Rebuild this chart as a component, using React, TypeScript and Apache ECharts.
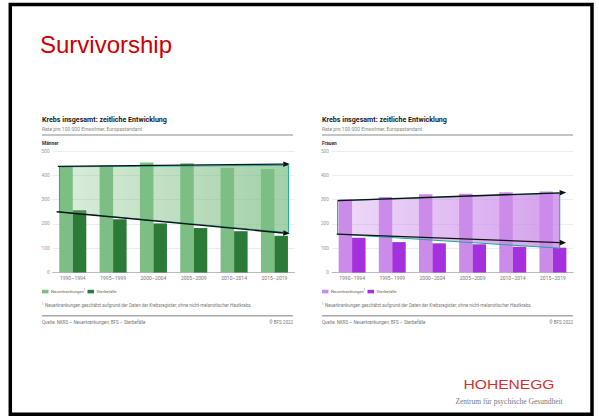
import React, { useEffect, useRef } from "react";
import * as echarts from "echarts";

const categories = ["1990–1994", "1995–1999", "2000–2004", "2005–2009", "2010–2014", "2015–2019"];
const yTicks = [0, 100, 200, 300, 400, 500];

const menIncidence = [438, 440, 453, 450, 431, 426];
const menDeaths = [256, 219, 202, 183, 170, 151];
const womenIncidence = [301, 311, 322, 324, 330, 333];
const womenDeaths = [143, 125, 120, 116, 106, 102];

// annotation band + arrows (x in category-index units, y in rate units)
const menBand = [[-0.33, 435], [5.35, 441], [5.35, 164], [-0.33, 250]];
const menArrowTop = [[-0.37, 437], [5.38, 446]];
const menArrowBottom = [[-0.4, 250], [5.38, 160]];
const womenBand = [[-0.36, 295], [5.17, 326], [5.17, 100], [-0.36, 158]];
const womenArrowTop = [[-0.36, 296], [5.33, 329]];
const womenArrowBottom = [[-0.38, 158], [5.33, 122]];

const MEN_LIGHT = "#7dbe84";
const MEN_DARK = "#2b7a37";
const WOMEN_LIGHT = "#cb8ce9";
const WOMEN_DARK = "#a431dd";
const FONT = "Roboto";

function bandRenderer(band: number[][], arrows: number[][][], from: string, to: string) {
  return (_params: any, api: any) => {
    const pts = band.map((p) => api.coord(p));
    const children: any[] = [
      {
        type: "polygon",
        shape: { points: pts },
        style: {
          fill: new echarts.graphic.LinearGradient(0, 0, 1, 0, [
            { offset: 0, color: from },
            { offset: 1, color: to },
          ]),
          stroke: "#1aa99b",
          lineWidth: 1,
        },
      },
    ];
    arrows.forEach(([a, b]) => {
      const p1 = api.coord(a);
      const p2 = api.coord(b);
      const dx = p2[0] - p1[0];
      const dy = p2[1] - p1[1];
      const len = Math.hypot(dx, dy);
      const ux = dx / len;
      const uy = dy / len;
      const hl = 6.5;
      const hw = 2.8;
      const base = [p2[0] - ux * hl, p2[1] - uy * hl];
      children.push({
        type: "line",
        shape: { x1: p1[0], y1: p1[1], x2: base[0], y2: base[1] },
        style: { stroke: "#111", lineWidth: 1.3 },
      });
      children.push({
        type: "polygon",
        shape: {
          points: [p2, [base[0] - uy * hw, base[1] + ux * hw], [base[0] + uy * hw, base[1] - ux * hw]],
        },
        style: { fill: "#111" },
      });
    });
    return { type: "group", children };
  };
}

function panelGraphics(x0: number, label: string, light: string, dark: string): any[] {
  const w = 251;
  const t = (text: string, x: number, y: number, size: number, fill: string, extra: any = {}) => ({
    type: "text",
    x,
    y,
    style: { text, fill, fontSize: size, fontFamily: FONT, verticalAlign: "middle", align: "left", ...extra },
  });
  return [
    t("Krebs insgesamt: zeitliche Entwicklung", x0, 119.5, 7.1, "#222", { fontWeight: "bold" }),
    t("Rate pro 100 000 Einwohner, Europastandard", x0, 129, 5, "#888"),
    { type: "line", shape: { x1: x0, y1: 135, x2: x0 + w, y2: 135 }, style: { stroke: "#8a8a8a", lineWidth: 1 } },
    t(label, x0, 143.5, 4.8, "#333", { fontWeight: "bold" }),
    { type: "rect", shape: { x: x0, y: 289.8, width: 6.5, height: 3.6 }, style: { fill: light } },
    t("Neuerkrankungen", x0 + 9, 291.6, 4.2, "#666"),
    t("1", x0 + 41.5, 290, 3, "#666"),
    { type: "rect", shape: { x: x0 + 45.5, y: 289.8, width: 6.5, height: 3.6 }, style: { fill: dark } },
    t("Sterbefälle", x0 + 54.5, 291.6, 4.2, "#666"),
    t("1", x0, 303.5, 3, "#666"),
    t(
      "Neuerkrankungen geschätzt aufgrund der Daten der Krebsregister; ohne nicht-melanotischer Hautkrebs.",
      x0 + 3,
      305,
      4.5,
      "#777"
    ),
    { type: "line", shape: { x1: x0, y1: 315.7, x2: x0 + w, y2: 315.7 }, style: { stroke: "#aaa", lineWidth: 1.5 } },
    t("Quelle: NKRS – Neuerkrankungen; BFS – Sterbefälle", x0, 322.8, 4.5, "#777"),
    t("© BFS 2022", x0 + w, 322.8, 4.5, "#777", { align: "right" }),
  ];
}

export default function App() {
  const ref = useRef<HTMLDivElement>(null);

  useEffect(() => {
    if (!ref.current) return;
    const chart = echarts.init(ref.current, undefined, { renderer: "svg" });

    const catAxis = (gridIndex: number) => ({
      type: "category",
      gridIndex,
      data: categories,
      axisTick: { show: false },
      axisLine: { lineStyle: { color: "#bbb", width: 1 } },
      axisLabel: { fontSize: 5, color: "#777", margin: 3, fontFamily: FONT, interval: 0 },
    });
    const valAxis = (gridIndex: number) => ({
      type: "value",
      gridIndex,
      min: yTicks[0],
      max: yTicks[yTicks.length - 1],
      interval: yTicks[1] - yTicks[0],
      axisLine: { show: false },
      axisTick: { show: false },
      axisLabel: { fontSize: 4.8, color: "#999", margin: 3, fontFamily: FONT },
      splitLine: { lineStyle: { color: "#ececec", width: 1 } },
    });
    const hiddenX = (gridIndex: number) => ({
      type: "value",
      gridIndex,
      min: -0.5,
      max: 5.5,
      show: false,
    });

    const bar = (name: string, data: number[], color: string, xi: number, yi: number) => ({
      type: "bar",
      name,
      data,
      xAxisIndex: xi,
      yAxisIndex: yi,
      barGap: "0%",
      barCategoryGap: "33%",
      itemStyle: { color },
      silent: true,
    });

    chart.setOption({
      animation: false,
      backgroundColor: "#fff",
      grid: [
        { left: 52.6, top: 151, width: 242, height: 121.5 },
        { left: 332, top: 151, width: 241, height: 121.5 },
      ],
      xAxis: [catAxis(0), catAxis(1), hiddenX(0), hiddenX(1)],
      yAxis: [valAxis(0), valAxis(1)],
      series: [
        bar("Neuerkrankungen Männer", menIncidence, MEN_LIGHT, 0, 0),
        bar("Sterbefälle Männer", menDeaths, MEN_DARK, 0, 0),
        bar("Neuerkrankungen Frauen", womenIncidence, WOMEN_LIGHT, 1, 1),
        bar("Sterbefälle Frauen", womenDeaths, WOMEN_DARK, 1, 1),
        {
          type: "custom",
          xAxisIndex: 2,
          yAxisIndex: 0,
          data: [[0, 0]],
          clip: false,
          silent: true,
          z: 5,
          renderItem: bandRenderer(menBand, [menArrowTop, menArrowBottom], "rgba(125,190,132,0.28)", "rgba(125,190,132,0.72)"),
        },
        {
          type: "custom",
          xAxisIndex: 3,
          yAxisIndex: 1,
          data: [[0, 0]],
          clip: false,
          silent: true,
          z: 5,
          renderItem: bandRenderer(womenBand, [womenArrowTop, womenArrowBottom], "rgba(203,140,233,0.32)", "rgba(203,140,233,0.82)"),
        },
      ],
      graphic: [
        {
          type: "rect",
          shape: { x: 10.3, y: 4.5, width: 581.7, height: 409.7 },
          style: { fill: "none", stroke: "#000", lineWidth: 3.5 },
          z: 100,
        },
        {
          type: "text",
          x: 40,
          y: 44,
          style: { text: "Survivorship", fill: "#cc0000", fontSize: 24, fontFamily: "Liberation Sans", verticalAlign: "middle" },
        },
        ...panelGraphics(42, "Männer", MEN_LIGHT, MEN_DARK),
        ...panelGraphics(322, "Frauen", WOMEN_LIGHT, WOMEN_DARK),
        {
          type: "text",
          x: 509,
          y: 384.5,
          scaleX: 1.3,
          style: { text: "HOHENEGG", fill: "#d0312d", fontSize: 12, fontFamily: "Liberation Sans", align: "center", verticalAlign: "middle" },
        },
        {
          type: "text",
          x: 509,
          y: 401.5,
          style: { text: "Zentrum für psychische Gesundheit", fill: "#777", fontSize: 7.5, fontFamily: "Liberation Serif", align: "center", verticalAlign: "middle" },
        },
      ],
    });

    return () => chart.dispose();
  }, []);

  return (
    <div
      ref={ref}
      style={{ position: "absolute", left: 0, top: 0, width: 599, height: 417, background: "#fff" }}
    />
  );
}
